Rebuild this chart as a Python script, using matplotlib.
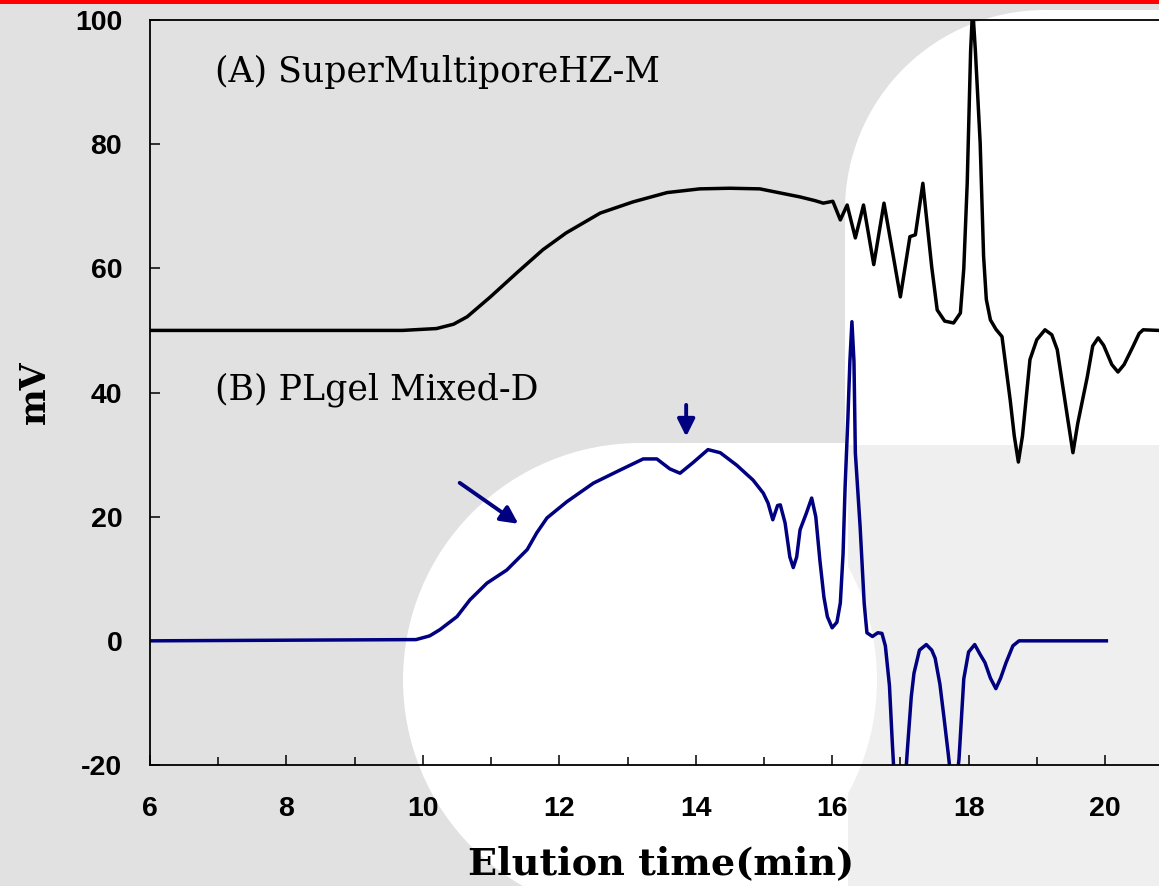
import matplotlib
matplotlib.use("Agg")
import matplotlib.pyplot as plt
from matplotlib.patches import Rectangle, Circle
from matplotlib.ticker import MultipleLocator, FixedLocator

# ---- data ----
x_a = [6.0, 9.0, 9.7, 10.2, 10.45, 10.65, 10.99, 11.38, 11.76, 12.1, 12.6, 13.08, 13.58,
       14.06, 14.5, 14.94, 15.53, 15.75, 15.87, 16.01, 16.12, 16.22, 16.34, 16.46, 16.61,
       16.76, 16.88, 17.0, 17.14, 17.22, 17.33, 17.46, 17.54, 17.65, 17.78, 17.88, 17.93,
       17.98, 18.03, 18.06, 18.10, 18.17, 18.22, 18.26, 18.32, 18.4, 18.49, 18.61, 18.67,
       18.73, 18.79, 18.9, 19.0, 19.12, 19.22, 19.3, 19.45, 19.53, 19.6, 19.74, 19.82,
       19.9, 19.98, 20.1, 20.19, 20.28, 20.41, 20.5, 20.56, 20.79]
y_a = [50, 50, 50, 50.3, 51, 52.2, 55.4, 59.3, 63, 65.7, 68.9, 70.7, 72.2,
       72.8, 72.9, 72.8, 71.5, 70.9, 70.5, 70.8, 67.8, 70.2, 64.9, 70.2, 60.6,
       70.5, 63, 55.4, 65.1, 65.4, 73.7, 60.2, 53.3, 51.5, 51.2, 52.8, 60,
       73.7, 95, 102, 95, 80.2, 62, 55, 51.7, 50.2, 49, 38.8, 33,
       28.8, 33, 45.3, 48.5, 50.1, 49.3, 46.9, 36, 30.3, 35, 42.5, 47.5,
       48.8, 47.6, 44.5, 43.3, 44.5, 47.4, 49.5, 50.1, 50]

x_b = [6.0, 9.9, 10.1, 10.25, 10.5, 10.69, 10.94, 11.23, 11.53, 11.67, 11.82, 12.11,
       12.5, 12.89, 13.23, 13.43, 13.62, 13.77, 13.96, 14.18, 14.36, 14.6, 14.84, 14.99,
       15.06, 15.13, 15.2, 15.24, 15.31, 15.38, 15.43, 15.48, 15.53, 15.62, 15.7, 15.76,
       15.82, 15.88, 15.93, 16.0, 16.07, 16.12, 16.16, 16.19, 16.23, 16.26, 16.29, 16.32,
       16.34, 16.41, 16.47, 16.51, 16.59, 16.67, 16.73, 16.78, 16.84, 16.88, 16.92, 17.0,
       17.07, 17.1, 17.16, 17.2, 17.28, 17.38, 17.46, 17.51, 17.58, 17.64, 17.7, 17.75,
       17.8, 17.86, 17.93, 18.0, 18.09, 18.17, 18.24, 18.32, 18.4, 18.47, 18.55, 18.65,
       18.74, 20.02]
y_b = [0, 0.2, 0.8, 1.8, 3.9, 6.6, 9.3, 11.4, 14.7, 17.4, 19.8, 22.4,
       25.4, 27.5, 29.3, 29.3, 27.7, 27.0, 28.7, 30.8, 30.3, 28.3, 25.9, 23.8,
       22.2, 19.5, 21.8, 21.9, 19, 13.5, 11.8, 13.5, 17.9, 20.5, 23, 20,
       13, 7, 3.9, 2.1, 3.0, 6.1, 14, 24.8, 35.6, 45, 51.4, 45,
       30.3, 18.4, 6, 1.3, 0.7, 1.3, 1.2, -0.8, -7.2, -16, -24, -26,
       -23, -18, -9, -5.2, -1.5, -0.6, -1.5, -2.8, -7, -12.4, -18, -23,
       -25, -19, -6.1, -1.8, -0.6, -2.2, -3.5, -6, -7.7, -6, -3.5, -0.8,
       0, 0]

label_a = "(A) SuperMultiporeHZ-M"
label_b = "(B) PLgel Mixed-D"
y_ticks = [-20, 0, 20, 40, 60, 80, 100]
y_ticklabels = ["-20", "0", "20", "40", "60", "80", "100"]
x_ticks = [6, 8, 10, 12, 14, 16, 18, 20]
x_ticklabels = ["6", "8", "10", "12", "14", "16", "18", "20"]
arrow1 = ((10.54, 25.45), (11.40, 18.85))
arrow2 = ((13.86, 38.0), (13.86, 32.9))

W, H = 1159, 886
fig = plt.figure(figsize=(W / 100, H / 100), dpi=100)
fig.patch.set_facecolor("#e1e1e1")

# ---- decorative background ----
bg = fig.add_axes([0, 0, 1, 1], zorder=0)
bg.set_xlim(0, W)
bg.set_ylim(H, 0)
bg.axis("off")
gray_light = "#efefef"
bg.add_patch(Rectangle((848, 445), W - 848, H - 445, color=gray_light, lw=0))
bg.add_patch(Circle((640, 680), 237, color="white", lw=0))
bg.add_patch(Rectangle((640, 443), 848 - 640, H - 443, color="white", lw=0))
bg.add_patch(Circle((1045, 210), 200, color="white", lw=0))
bg.add_patch(Rectangle((845, 210), W - 845, 445 - 210, color="white", lw=0))
bg.add_patch(Rectangle((1045, 10), W - 1045, 445 - 10, color="white", lw=0))
bg.add_patch(Rectangle((0, 0), W, 4, color="#ff0000", lw=0))

# ---- main axes ----
left = 150 / W
bottom = 1 - 765 / H
ax = fig.add_axes([left, bottom, 1 - left, 745 / H], zorder=1)
ax.set_facecolor("none")
xmax = 6 + (W - 150) / ((1105 - 150) / 14)
ax.set_xlim(6, xmax)
ax.set_ylim(-20, 100)

ax.plot(x_a, y_a, color="black", lw=2.5, solid_joinstyle="round")
ax.plot(x_b, y_b, color="#000080", lw=2.5, solid_joinstyle="round")

for (xy_tail, xy_head) in (arrow1, arrow2):
    ax.annotate("", xy=xy_head, xytext=xy_tail,
                arrowprops=dict(arrowstyle="-|>", color="#000080", lw=2.8,
                                mutation_scale=26, shrinkA=0, shrinkB=0))

ax.text(6.95, 91.7, label_a, family="DejaVu Serif", fontsize=25, va="center", ha="left")
ax.text(6.95, 40.4, label_b, family="DejaVu Serif", fontsize=25, va="center", ha="left")

ax.spines["right"].set_visible(False)
for s in ("left", "bottom", "top"):
    ax.spines[s].set_linewidth(1.3)

ax.yaxis.set_major_locator(FixedLocator(y_ticks))
ax.set_yticklabels(y_ticklabels)
ax.xaxis.set_major_locator(FixedLocator(x_ticks))
ax.set_xticklabels(x_ticklabels)
ax.xaxis.set_minor_locator(MultipleLocator(1))
ax.tick_params(axis="y", direction="in", length=7.5, width=1.1, pad=20, right=False)
ax.tick_params(axis="x", which="major", direction="in", length=7.5, width=1.1, pad=22, top=False)
ax.tick_params(axis="x", which="minor", direction="in", length=6, width=1.1, top=False)
for lbl in ax.get_xticklabels() + ax.get_yticklabels():
    lbl.set_fontfamily("Liberation Sans")
    lbl.set_fontweight("bold")
    lbl.set_fontsize(20.5)

ax.set_ylabel("mV", family="DejaVu Serif", fontweight="bold", fontsize=25, labelpad=8)
ax.yaxis.set_label_coords(-115 / (W - 150), (765 - 392) / 745)
ax.set_xlabel("Elution time(min)", family="DejaVu Serif", fontweight="bold", fontsize=27.5)
ax.xaxis.set_label_coords((661 - 150) / (W - 150), -(864 - 765) / 745)
ax.xaxis.label.set_va("center")
ax.yaxis.label.set_va("center")

fig.savefig("out.png", dpi=100, facecolor=fig.get_facecolor())
